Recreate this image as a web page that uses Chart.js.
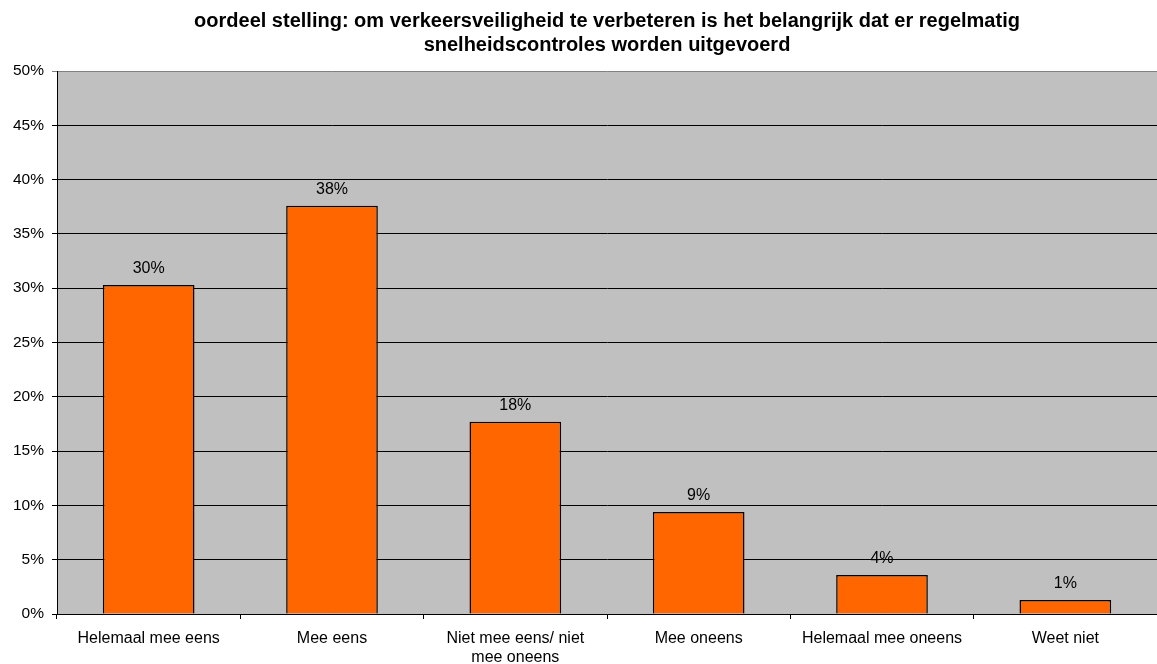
<!DOCTYPE html>
<html>
<head>
<meta charset="utf-8">
<script src="https://cdn.jsdelivr.net/npm/chart.js@4.4.1/dist/chart.umd.min.js"></script>
<style>
  html, body { margin: 0; padding: 0; background: #fff; }
  #wrap { width: 1157px; height: 664px; position: relative; }
</style>
</head>
<body>
<div id="wrap"><canvas id="chart" width="1157" height="664"></canvas></div>
<script>
(function () {
  'use strict';

  var TITLE_LINES = [
    'oordeel stelling: om verkeersveiligheid te verbeteren is het belangrijk dat er regelmatig',
    'snelheidscontroles worden uitgevoerd'
  ];
  var categories = [
    'Helemaal mee eens',
    'Mee eens',
    ['Niet mee eens/ niet', 'mee oneens'],
    'Mee oneens',
    'Helemaal mee oneens',
    'Weet niet'
  ];
  var values = [30.3, 37.6, 17.7, 9.4, 3.6, 1.3];
  var yTicks = [0, 5, 10, 15, 20, 25, 30, 35, 40, 45, 50];

  var FONT   = 'Arial, "Liberation Sans", sans-serif';
  var ORANGE = '#FF6600';
  var PLOT   = '#C0C0C0';

  Chart.defaults.font.family = FONT;
  Chart.defaults.color = '#000';

  // ── Plot background + title + value labels ─────────────
  var decor = {
    id: 'decor',
    beforeDraw: function (chart) {
      var a = chart.chartArea, c = chart.ctx;
      c.save();
      c.fillStyle = PLOT;
      c.fillRect(a.left, a.top, a.right - a.left, a.bottom - a.top);
      c.restore();
    },
    afterDatasetsDraw: function (chart) {
      var c = chart.ctx, a = chart.chartArea;
      var meta = chart.getDatasetMeta(0);
      c.save();
      c.font = '16px ' + FONT;
      c.fillStyle = '#000';
      c.textAlign = 'center';
      c.textBaseline = 'middle';
      meta.data.forEach(function (bar, i) {
        c.fillText(Math.round(values[i]) + '%', bar.x, bar.y - 16);
      });
      c.font = 'bold 20px ' + FONT;
      var cx = (a.left + a.right) / 2;
      TITLE_LINES.forEach(function (t, i) {
        c.fillText(t, cx, 21 + i * 24);
      });
      c.restore();
    }
  };

  new Chart(document.getElementById('chart'), {
    type: 'bar',
    data: {
      labels: categories,
      datasets: [{
        data: values,
        backgroundColor: ORANGE,
        borderColor: '#000',
        borderWidth: 1.5,
        categoryPercentage: 0.5,
        barPercentage: 1
      }]
    },
    options: {
      responsive: false,
      animation: false,
      layout: { padding: { top: 71, right: 0, left: 0, bottom: 0 } },
      plugins: { legend: { display: false }, tooltip: { enabled: false } },
      scales: {
        y: {
          min: 0, max: 50,
          afterBuildTicks: function (s) { s.ticks = yTicks.map(function (v) { return { value: v }; }); },
          afterFit: function (s) { s.width = 57; },
          ticks: {
            font: { size: 15.5 }, color: '#000', padding: 8,
            callback: function (v) { return v + '%'; }
          },
          grid: {
            color: function (ctx) { return ctx.tick && ctx.tick.value === 50 ? '#808080' : '#000'; },
            tickLength: 5, lineWidth: 1
          },
          border: { color: '#000', width: 1 }
        },
        x: {
          afterFit: function (s) { s.height = 50; },
          ticks: { font: { size: 16, lineHeight: 1.2 }, color: '#000', padding: 10, maxRotation: 0, autoSkip: false },
          grid: { drawOnChartArea: false, drawTicks: true, tickLength: 5, color: '#000', offset: true },
          border: { color: '#000', width: 1 }
        }
      }
    },
    plugins: [decor]
  });
}());
</script>
</body>
</html>
